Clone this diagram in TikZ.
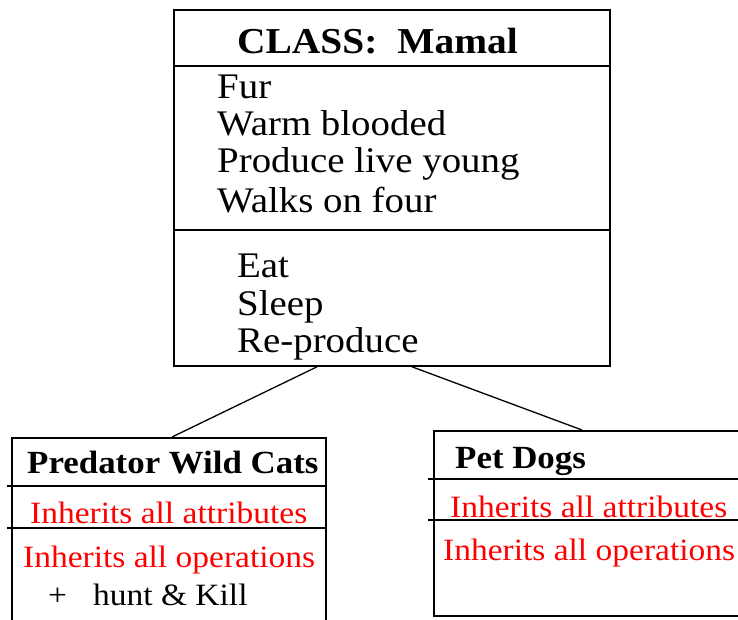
\documentclass[tikz,border=0pt]{standalone}
\usepackage{fontspec}
\setmainfont{Liberation Serif}[FakeStretch=1.08]
\begin{document}
\begin{tikzpicture}[x=1pt,y=-1pt,
  classbox/.style={draw, line width=1.8pt, inner sep=0pt, anchor=north west},
  divider/.style={line width=1.5pt},
  link/.style={line width=1.3pt},
  bigtext/.style={anchor=base west, inner sep=0pt, font=\fontsize{36}{37}\selectfont},
  smalltext/.style={anchor=base west, inner sep=0pt, font=\fontsize{31}{32}\selectfont},
  boldsmall/.style={anchor=base west, inner sep=0pt, font=\fontsize{32.3}{33}\selectfont\bfseries},
  inherit/.style={smalltext, text=red}]
\useasboundingbox (0,0) rectangle (738,619);
\clip (0,0) rectangle (738,619);

% Parent class
\node[classbox, minimum width=436pt, minimum height=356pt] (mammal) at (173,9) {};
\draw[divider] (mammal.west |- 0,66) -- (mammal.east |- 0,66);
\draw[divider] (mammal.west |- 0,230) -- (mammal.east |- 0,230);
\node[bigtext, font=\fontsize{36.5}{37}\selectfont\bfseries] (mtitle) at (237,53) {CLASS:\hspace{0.55em}Mamal};
\node[bigtext] (a1) at (217,98) {Fur};
\node[bigtext] (a2) at (217,135) {Warm blooded};
\node[bigtext] (a3) at (217,172) {Produce live young};
\node[bigtext] (a4) at (217,212) {Walks on four};
\node[bigtext] (o1) at (237,277) {Eat};
\node[bigtext] (o2) at (237,315) {Sleep};
\node[bigtext] (o3) at (237,352) {Re-produce};

% Subclass: wild cats
\node[classbox, minimum width=314pt, minimum height=210pt] (cats) at (11,437) {};
\draw[divider] (7,486) -- (cats.east |- 0,486);
\draw[divider] (7,528) -- (cats.east |- 0,528);
\node[boldsmall] (ctitle) at (27,473) {Predator Wild Cats};
\node[inherit] (cattr) at (30,523) {Inherits all attributes};
\node[inherit] (cops) at (23,567) {Inherits all operations};
\node[smalltext] (cplus) at (48,605) {+};
\node[smalltext] (chunt) at (93,605) {hunt \& Kill};

% Subclass: pet dogs
\node[classbox, minimum width=330pt, minimum height=185pt] (dogs) at (433,430) {};
\draw[divider] (428,479) -- (dogs.east |- 0,479);
\draw[divider] (428,520) -- (dogs.east |- 0,520);
\node[boldsmall] (dtitle) at (455,468) {Pet Dogs};
\node[inherit] (dattr) at (450,517) {Inherits all attributes};
\node[inherit] (dops) at (443,560) {Inherits all operations};

% Inheritance links
\draw[link] ([xshift=144pt]mammal.south west) -- ([xshift=161pt]cats.north west);
\draw[link] ([xshift=239pt]mammal.south west) -- ([xshift=149pt]dogs.north west);
\end{tikzpicture}
\end{document}
